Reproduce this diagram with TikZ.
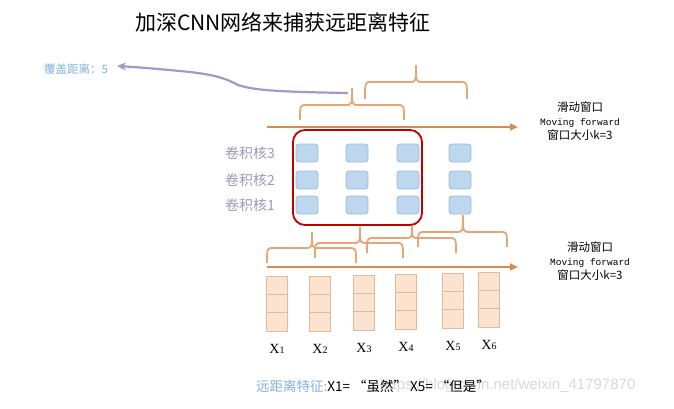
\documentclass[tikz,border=0pt]{standalone}
\usepackage{fontspec}
\setmainfont{Liberation Serif}
\newfontfamily\cjk{Noto Sans CJK SC}
\newfontfamily\monofnt{Liberation Mono}
\newfontfamily\wmfont{Liberation Sans}
\usetikzlibrary{arrows.meta}
\definecolor{redc}{HTML}{C00000}
\definecolor{boxfill}{HTML}{BDD7EE}
\definecolor{boxline}{HTML}{9BBBD9}
\definecolor{peachfill}{HTML}{FBE3D0}
\definecolor{peachline}{HTML}{E2B99A}
\definecolor{orangearrow}{HTML}{D98B4E}
\definecolor{bracec}{HTML}{E6A574}
\definecolor{lav}{HTML}{A597C9}
\definecolor{textblue}{HTML}{7FB2DD}
\definecolor{klabelc}{HTML}{9E97B8}
\definecolor{wmgray}{HTML}{D8D8D8}
\newcommand\brc[6]{% x1 x2 xtip ybottom yarm ytip
  \draw[bracestyle] (#1,#4) .. controls (#1,#5) .. ({#1+7},#5) -- ({#3-7},#5)
    .. controls (#3,#5) .. (#3,#6) .. controls (#3,#5) .. ({#3+7},#5)
    -- ({#2-7},#5) .. controls (#2,#5) .. (#2,#4);}
\begin{document}
\begin{tikzpicture}[x=1pt,y=-1pt,
  kbox/.style={draw=boxline, fill=boxfill, line width=0.8pt, rounded corners=3pt,
    minimum width=22pt, minimum height=18pt, inner sep=0pt},
  wcell/.style={draw=peachline, fill=peachfill, line width=0.8pt,
    minimum width=21pt, minimum height=18.3pt, inner sep=0pt},
  klabel/.style={anchor=east, text=klabelc, font=\cjk\fontsize{14}{16}\selectfont, inner sep=0pt},
  xlabel/.style={font=\fontsize{14}{16}\selectfont, inner sep=0pt},
  oarrow/.style={draw=orangearrow, line width=2.4pt, -{Triangle[length=8pt,width=7pt]}},
  bracestyle/.style={draw=bracec, line width=1.8pt},
  wintext/.style={align=center, font=\cjk\fontsize{11.5}{14}\selectfont, inner sep=0pt}]
\useasboundingbox (0,0) rectangle (674,408);

% title
\node[font=\cjk\fontsize{21}{24}\selectfont, inner sep=0pt] (title) at (283,22) {加深CNN网络来捕获远距离特征};

% cover distance
\node[anchor=west, text=textblue, font=\cjk\fontsize{11.5}{13}\selectfont, inner sep=0pt] (cover) at (44,69) {覆盖距离：5};
\coordinate (pstart) at (348,93);
\coordinate (ptip) at (117,66);
\draw[lav, line width=2.2pt, -{Stealth[length=9pt,width=8pt]}] (pstart)
  .. controls (290,92) and (255,91) .. (238,85)
  .. controls (225,78) and (215,75) .. (190,72)
  .. controls (160,69) and (135,67) .. (ptip);

% upper braces
\brc{300}{404}{352}{120}{105}{88}
\brc{365}{467}{416}{99}{82}{65}

% upper arrow
\coordinate (a1s) at (267,127);
\coordinate (a1e) at (518,127);
\draw[oarrow] (a1s) -- (a1e);
\node[wintext] (t1) at (580,121) {滑动窗口\\{\monofnt\fontsize{9.5}{14}\selectfont Moving forward}\\窗口大小k=3};

% red window
\node[draw=redc, line width=1.8pt, rounded corners=12pt, minimum width=129pt, minimum height=95pt] (window) at (357.5,177.5) {};

% kernels
\foreach \c/\x in {1/307,2/357,3/408,4/460}{
  \node[kbox] (k3\c) at (\x,153) {};
  \node[kbox] (k2\c) at (\x,180) {};
  \node[kbox] (k1\c) at (\x,205) {};
}
\node[klabel] (l3) at (275,153) {卷积核3};
\node[klabel] (l2) at (275,180) {卷积核2};
\node[klabel] (l1) at (275,205) {卷积核1};

% lower braces
\brc{267}{356}{312}{263}{248}{232}
\brc{315}{403}{360}{258}{243}{227}
\brc{367}{456}{412}{253}{238}{226}
\brc{418}{507}{463}{247}{232}{215}

% lower arrow
\coordinate (a2s) at (267,267);
\coordinate (a2e) at (518,267);
\draw[oarrow] (a2s) -- (a2e);
\node[wintext] (t2) at (590,261) {滑动窗口\\{\monofnt\fontsize{9.5}{14}\selectfont Moving forward}\\窗口大小k=3};

% word vectors
\foreach \i/\x/\t in {1/277/276,2/320/276,3/364/275,4/406/274,5/453/273,6/489/272}{
  \node[wcell] (w\i a) at (\x,{\t+9.15}) {};
  \node[wcell] (w\i b) at (\x,{\t+27.45}) {};
  \node[wcell] (w\i c) at (\x,{\t+45.75}) {};
  \node[xlabel] (x\i) at (\x,{\t+73}) {X{\fontsize{10}{10}\selectfont\i}};
}

% watermark and note
\node[anchor=west, text=wmgray, font=\wmfont\fontsize{15}{17}\selectfont, inner sep=0pt] (wm) at (380,386) {https://blog.csdn.net/weixin\_41797870};
\node[anchor=west, font=\cjk\fontsize{13.5}{15}\selectfont, inner sep=0pt] (note) at (256,386) {{\color{textblue}远距离特征:}X1= “虽然” X5= “但是”};
\end{tikzpicture}
\end{document}
